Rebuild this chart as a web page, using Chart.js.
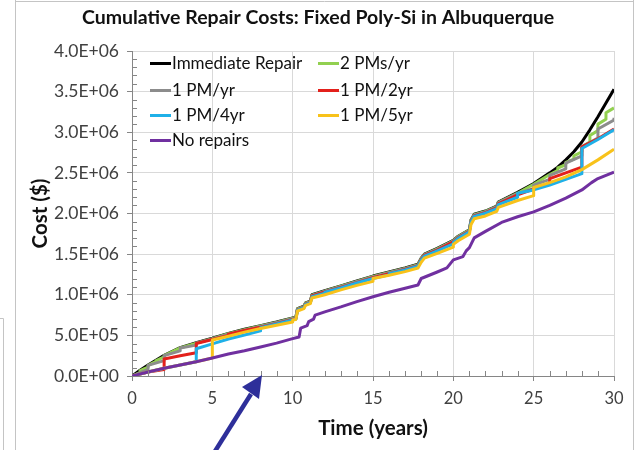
<!DOCTYPE html>
<html><head><meta charset="utf-8">
<script src="https://cdn.jsdelivr.net/npm/chart.js@4.4.1/dist/chart.umd.min.js"></script>
<style>
html,body{margin:0;padding:0;background:#fff;}
#wrap{position:relative;width:640px;height:450px;overflow:hidden;background:#fff;}
canvas{position:absolute;left:0;top:0;}
.lg{position:absolute;font-family:Lato,"Liberation Sans",sans-serif;font-size:17px;color:#111;white-space:nowrap;line-height:18px;}
.lg i{display:inline-block;width:21px;height:3px;vertical-align:middle;margin-right:1px;position:relative;top:-1px;}
</style></head>
<body><div id="wrap"><canvas id="c" width="640" height="450"></canvas><div id="legend"></div></div>
<script>
// ---- data (cost in $ millions vs. time in years) ----
const seriesNames = ['Immediate Repair','2 PMs/yr','1 PM/yr','1 PM/2yr','1 PM/4yr','1 PM/5yr','No repairs'];
const seriesColors = ['#000000','#92d050','#8c8c8c','#e3201b','#1fb0e8','#f8c21a','#7030a0'];

const immediateRepair = [[0,0],[0.5,0.07],[1,0.135],[2,0.255],[3,0.35],[4,0.41],[5,0.465],[6,0.525],[7,0.575],[8,0.62],[9,0.665],[10,0.715],[10.2,0.725],[10.3,0.83],[10.7,0.86],[10.8,0.9],[11.1,0.92],[11.2,1.0],[12,1.05],[13,1.11],[14,1.17],[15,1.23],[16,1.28],[17,1.33],[17.8,1.375],[18,1.45],[18.2,1.5],[19,1.57],[20,1.67],[20.3,1.72],[21,1.8],[21.1,1.92],[21.3,1.99],[22,2.03],[22.7,2.09],[22.8,2.14],[24,2.26],[25,2.37],[26,2.5],[26.5,2.57],[27,2.66],[27.5,2.76],[28,2.88],[28.5,3.03],[29,3.19],[29.5,3.36],[30,3.53]];

const twoPMsPerYr = [[0,0],[0.5,0.04],[0.5,0.065],[1,0.11],[1,0.13],[1.5,0.18],[1.5,0.19],[2,0.235],[2,0.25],[3,0.345],[4,0.405],[5,0.46],[6,0.52],[7,0.57],[8,0.615],[9,0.66],[10,0.71],[10.2,0.72],[10.3,0.825],[10.7,0.855],[10.8,0.895],[11.1,0.915],[11.2,0.995],[12,1.045],[13,1.105],[14,1.165],[15,1.225],[16,1.275],[17,1.325],[17.8,1.37],[18,1.445],[18.2,1.495],[19,1.565],[20,1.665],[20.3,1.715],[21,1.795],[21.1,1.915],[21.3,1.985],[22,2.025],[22.7,2.085],[22.8,2.135],[24,2.25],[25,2.36],[26,2.48],[26.5,2.53],[26.5,2.56],[27,2.6],[27,2.63],[27.5,2.67],[27.5,2.71],[28,2.76],[28,2.82],[28.5,2.88],[28.5,2.96],[29,3.02],[29,3.1],[29.5,3.16],[29.5,3.24],[30,3.3]];

const onePMPerYr = [[0,0],[1,0.08],[1,0.13],[2,0.19],[2,0.25],[3,0.31],[3,0.345],[4,0.38],[4,0.405],[5,0.455],[6,0.515],[7,0.565],[8,0.61],[9,0.655],[10,0.705],[10.2,0.715],[10.3,0.82],[10.7,0.85],[10.8,0.89],[11.1,0.91],[11.2,0.99],[12,1.04],[13,1.1],[14,1.16],[15,1.22],[16,1.27],[17,1.32],[17.8,1.365],[18,1.44],[18.2,1.49],[19,1.56],[20,1.66],[20.3,1.71],[21,1.79],[21.1,1.91],[21.3,1.98],[22,2.02],[22.7,2.08],[22.8,2.13],[24,2.245],[25,2.31],[25,2.35],[26,2.42],[26,2.47],[27,2.55],[27,2.62],[28,2.71],[28,2.82],[29,2.93],[29,3.04],[30,3.15],[30,3.18]];

const onePMPer2yr = [[0,0],[1,0.05],[2,0.08],[2,0.21],[3,0.25],[4,0.285],[4,0.4],[5,0.45],[6,0.5],[6,0.515],[7,0.56],[8,0.6],[9,0.645],[10,0.695],[10.2,0.705],[10.3,0.815],[10.7,0.845],[10.8,0.885],[11.1,0.905],[11.2,0.985],[12,1.035],[13,1.09],[14,1.15],[15,1.21],[16,1.26],[17,1.31],[17.8,1.355],[18,1.43],[18.2,1.485],[19,1.55],[20,1.65],[20.3,1.7],[21,1.78],[21.1,1.9],[21.3,1.97],[22,2.01],[22.7,2.07],[22.8,2.12],[24,2.23],[25,2.3],[26,2.37],[26,2.43],[27,2.5],[28,2.57],[28,2.82],[29,2.92],[30,3.04]];

const onePMPer4yr = [[0,0],[1,0.05],[2,0.095],[3,0.135],[4,0.175],[4,0.335],[5,0.395],[6,0.455],[7,0.505],[8,0.555],[8,0.595],[9,0.64],[10,0.69],[10.2,0.7],[10.3,0.81],[10.7,0.84],[10.8,0.88],[11.1,0.9],[11.2,0.975],[12,1.02],[12,1.03],[13,1.085],[14,1.145],[15,1.2],[16,1.245],[16,1.26],[17,1.305],[17.8,1.35],[18,1.425],[18.2,1.475],[19,1.54],[20,1.625],[20,1.645],[20.3,1.695],[21,1.775],[21.1,1.895],[21.3,1.965],[22,2.005],[22.7,2.06],[22.8,2.11],[24,2.2],[24,2.25],[25,2.29],[26,2.35],[27,2.42],[28,2.49],[28,2.8],[29,2.91],[30,3.03]];

const onePMPer5yr = [[0,0],[1,0.05],[2,0.095],[3,0.135],[4,0.175],[5,0.222],[5,0.443],[6,0.49],[7,0.54],[8,0.585],[9,0.625],[10,0.665],[10,0.69],[10.2,0.695],[10.3,0.8],[10.7,0.83],[10.8,0.87],[11.1,0.89],[11.2,0.96],[12,1.0],[13,1.06],[14,1.115],[15,1.165],[15,1.2],[16,1.24],[17,1.285],[17.8,1.33],[18,1.4],[18.2,1.45],[19,1.51],[20,1.585],[20,1.62],[20.3,1.665],[21,1.745],[21.1,1.865],[21.3,1.935],[22,1.97],[22.7,2.025],[22.8,2.075],[24,2.16],[25,2.22],[25,2.32],[26,2.38],[27,2.45],[28,2.54],[29,2.66],[30,2.79]];

const noRepairs = [[0,0],[1,0.05],[2,0.095],[3,0.135],[4,0.175],[5,0.222],[6,0.27],[7,0.31],[8,0.357],[9,0.405],[10,0.46],[10.4,0.48],[10.5,0.59],[10.9,0.62],[11,0.67],[11.3,0.7],[11.4,0.75],[12,0.79],[13,0.85],[14,0.915],[15,0.975],[16,1.03],[17,1.08],[17.8,1.12],[18,1.2],[19,1.28],[19.6,1.33],[19.8,1.38],[20,1.43],[20.6,1.47],[20.8,1.54],[21,1.58],[21.3,1.7],[22,1.78],[23,1.89],[24,1.96],[25,2.02],[26,2.1],[27,2.19],[28,2.29],[28.6,2.38],[29,2.43],[30,2.51]];

const xTickLabels = ['0','5','10','15','20','25','30'];
const yTickLabels = ['0.0E+00','5.0E+05','1.0E+06','1.5E+06','2.0E+06','2.5E+06','3.0E+06','3.5E+06','4.0E+06'];

const allSeries = [immediateRepair, twoPMsPerYr, onePMPerYr, onePMPer2yr, onePMPer4yr, onePMPer5yr, noRepairs];

// ---- chart ----
const FONT = 'Lato, "Liberation Sans", sans-serif';
const datasets = allSeries.map((s, i) => ({
  label: seriesNames[i],
  data: s.map(p => ({x: p[0], y: p[1] * 1e6})),
  borderColor: seriesColors[i],
  backgroundColor: seriesColors[i],
  borderWidth: 3,
  pointRadius: 0,
  tension: 0,
  fill: false,
  borderJoinStyle: 'round',
  order: allSeries.length - 1 - i
}));

const extras = {
  id: 'extras',
  afterDraw(chart) {
    const ctx = chart.ctx;
    const xs = chart.scales.x, ys = chart.scales.y;
    const a = chart.chartArea;
    ctx.save();
    // minor ticks (inside)
    ctx.strokeStyle = '#868686';
    ctx.lineWidth = 1;
    ctx.beginPath();
    for (let v = 1e5; v < 4e6; v += 1e5) {
      if (Math.round(v / 1e5) % 5 === 0) continue;
      const y = Math.round(ys.getPixelForValue(v)) + 0.5;
      ctx.moveTo(a.left, y); ctx.lineTo(a.left + 5, y);
    }
    for (let t = 1; t < 30; t++) {
      if (t % 5 === 0) continue;
      const x = Math.round(xs.getPixelForValue(t)) + 0.5;
      ctx.moveTo(x, a.bottom); ctx.lineTo(x, a.bottom - 5);
    }
    ctx.stroke();
    // slide frame lines
    ctx.strokeStyle = '#c4c4c4';
    ctx.beginPath();
    ctx.moveTo(15.5, 0); ctx.lineTo(15.5, 450);
    ctx.moveTo(15, 1.5); ctx.lineTo(634, 1.5);
    ctx.moveTo(633.5, 0); ctx.lineTo(633.5, 450);
    ctx.moveTo(0, 318.5); ctx.lineTo(3.5, 318.5); ctx.lineTo(3.5, 450);
    ctx.stroke();
    // annotation arrow
    ctx.strokeStyle = '#2e2f9a';
    ctx.fillStyle = '#2e2f9a';
    ctx.lineWidth = 4.5;
    ctx.beginPath();
    ctx.moveTo(212, 456); ctx.lineTo(251, 394);
    ctx.stroke();
    ctx.beginPath();
    ctx.moveTo(262, 375); ctx.lineTo(242, 387); ctx.lineTo(259, 399);
    ctx.closePath(); ctx.fill();
    ctx.restore();
  }
};

const chart = new Chart(document.getElementById('c'), {
  type: 'line',
  data: { datasets },
  plugins: [extras],
  options: {
    responsive: false,
    animation: false,
    layout: { padding: { left: 22, right: 26, top: 0, bottom: 0 } },
    plugins: {
      legend: { display: false },
      tooltip: { enabled: false },
      title: {
        display: true,
        text: 'Cumulative Repair Costs: Fixed Poly-Si in Albuquerque',
        color: '#111',
        font: { family: FONT, size: 19.5, weight: 'bold' },
        padding: { top: 6, bottom: 21.6 }
      }
    },
    scales: {
      x: {
        type: 'linear', min: 0, max: 30,
        afterFit: s => { s.height = 74; },
        afterBuildTicks: s => { s.ticks = xTickLabels.map(t => ({value: Number(t)})); },
        ticks: { callback: (v, i) => xTickLabels[i], color: '#404040', font: { family: FONT, size: 16.5 }, padding: 8, maxRotation: 0 },
        grid: { color: '#d9d9d9', tickColor: '#868686', tickLength: 5 },
        border: { color: '#868686' },
        title: { display: true, text: 'Time (years)', color: '#111', font: { family: FONT, size: 20.5, weight: 'bold' }, padding: { top: 0, bottom: 9.7 } }
      },
      y: {
        type: 'linear', min: 0, max: 4e6,
        afterFit: s => { s.width = 110; },
        afterBuildTicks: s => { s.ticks = yTickLabels.map(t => ({value: Number(t)})); },
        ticks: { callback: (v, i) => yTickLabels[i], color: '#404040', font: { family: FONT, size: 17.5 }, padding: 8 },
        grid: { color: '#d9d9d9', tickColor: '#868686', tickLength: 5 },
        border: { color: '#868686' },
        title: { display: true, text: 'Cost ($)', color: '#111', font: { family: FONT, size: 20.5, weight: 'bold' }, padding: { top: 5.7, bottom: 0 } }
      }
    }
  }
});

// ---- legend (HTML, inside plot area, 2 columns) ----
const legendPos = [[150,54],[318,54],[150,81],[318,81],[150,106],[318,106],[150,131]];
const lg = document.getElementById('legend');
seriesNames.forEach((n, i) => {
  const d = document.createElement('div');
  d.className = 'lg';
  d.style.left = legendPos[i][0] + 'px';
  d.style.top = legendPos[i][1] + 'px';
  d.innerHTML = '<i style="background:' + seriesColors[i] + '"></i>' + n;
  lg.appendChild(d);
});
</script>
</body></html>
